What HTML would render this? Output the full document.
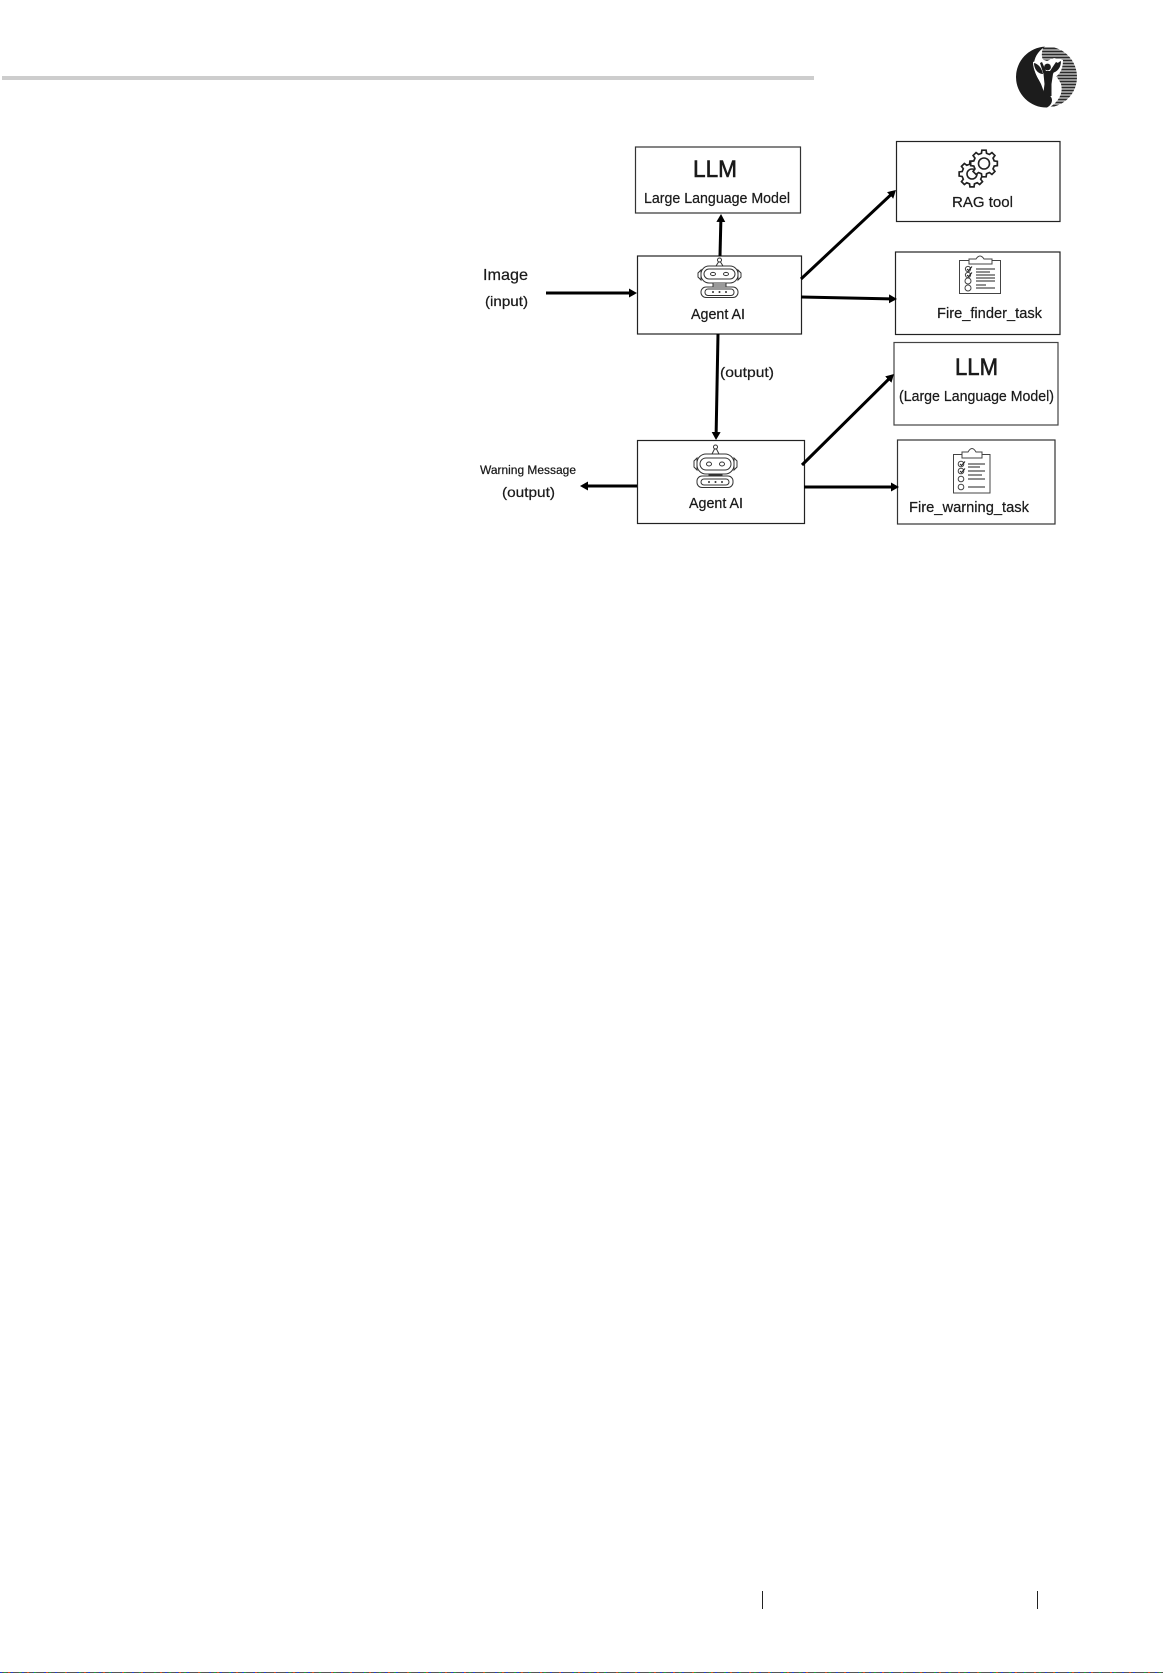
<!DOCTYPE html>
<html><head><meta charset="utf-8"><style>
html,body{margin:0;padding:0;background:#fff}
svg{display:block}
text{font-family:"Liberation Sans",sans-serif;fill:#1a1a1a;stroke:#1a1a1a;stroke-width:.22}
text.big{stroke-width:.6}
</style></head><body>
<svg width="1163" height="1673" viewBox="0 0 1163 1673" xmlns="http://www.w3.org/2000/svg">
<defs>
<marker id="a" markerUnits="userSpaceOnUse" markerWidth="10" markerHeight="10" refX="3" refY="4.5" orient="auto"><path d="M0,0 L8,4.5 L0,9 Z" fill="#000"/></marker>
<clipPath id="st"><path d="M1044,46.6 A30.5,30.5 0 0 1 1077,77 A30.5,30.5 0 0 1 1049,107.4 C1056,104 1064,95 1061,84 C1056,72 1040,64 1042,53 C1042,50 1043,48 1044,46.6 Z"/></clipPath>
<polygon id="gear" points=".757,-.189 .988,-.156 .988,.156 .757,.189 .669,.402 .809,.588 .588,.809 .402,.669 .189,.757 .156,.988 -.156,.988 -.189,.757 -.402,.669 -.588,.809 -.809,.588 -.669,.402 -.757,.189 -.988,.156 -.988,-.156 -.757,-.189 -.669,-.402 -.809,-.588 -.588,-.809 -.402,-.669 -.189,-.757 -.156,-.988 .156,-.988 .189,-.757 .402,-.669 .588,-.809 .809,-.588 .669,-.402"/>
</defs>
<rect x="2" y="76" width="812" height="4" fill="#cdcdcd"/>

<!-- logo -->
<path d="M1045,46.6 A30.5,30.5 0 0 0 1016,77 A30.5,30.5 0 0 0 1047,107.5 C1052,105 1053,100 1051,97 C1047,91 1043,87 1039,80 C1032,69 1031,56 1045,46.6 Z" fill="#1c1c1c"/>
<g clip-path="url(#st)" fill="#2a2a2a">
<rect x="1030" y="47.5" width="50" height="2"/><rect x="1030" y="50.5" width="50" height="2"/><rect x="1030" y="53.5" width="50" height="2"/><rect x="1030" y="56.5" width="50" height="2"/><rect x="1030" y="59.5" width="50" height="2"/><rect x="1030" y="62.5" width="50" height="2"/><rect x="1030" y="65.5" width="50" height="2"/><rect x="1030" y="68.5" width="50" height="2"/><rect x="1030" y="71.5" width="50" height="2"/><rect x="1030" y="74.5" width="50" height="2"/><rect x="1030" y="77.5" width="50" height="2"/><rect x="1030" y="80.5" width="50" height="2"/><rect x="1030" y="83.5" width="50" height="2"/><rect x="1030" y="86.5" width="50" height="2"/><rect x="1030" y="89.5" width="50" height="2"/><rect x="1030" y="92.5" width="50" height="2"/><rect x="1030" y="95.5" width="50" height="2"/><rect x="1030" y="98.5" width="50" height="2"/><rect x="1030" y="101.5" width="50" height="2"/><rect x="1030" y="104.5" width="50" height="2"/>
</g>
<path d="M1033,62 C1033,70 1037,76 1041,84 L1044,92 L1052,92 L1053,78 C1059,76 1063,70 1063,60 L1054,58 L1047,61 L1041,59 Z" fill="#fff"/>
<circle cx="1047.5" cy="67" r="3.4" fill="#1c1c1c"/>
<path d="M1042,62 L1046,71 L1050,71 L1056,62 L1058,63 L1053,74 L1051.5,84 L1051.5,96 L1043,96 L1044.5,84 L1043.5,74 L1040,63 Z" fill="#1c1c1c"/>
<path d="M1034,63 C1039,64 1042,69 1043,74 C1038,74 1034,69 1034,63 Z" fill="#1c1c1c"/>
<path d="M1061,61 C1056,63 1053,69 1052,73 C1057,72 1061,68 1061,61 Z" fill="#1c1c1c"/>

<!-- boxes -->
<g fill="#fff" stroke="#222" stroke-width="1.2">
<rect x="635.5" y="147" width="165" height="66" stroke="#333"/>
<rect x="637.5" y="256" width="164" height="78"/>
<rect x="637.5" y="440.5" width="167" height="83"/>
<rect x="896.5" y="141.5" width="163.5" height="80"/>
<rect x="895.5" y="252" width="164.5" height="82.5"/>
<rect x="894" y="342.5" width="164" height="82.5" stroke="#444"/>
<rect x="897.5" y="440" width="157.5" height="84" stroke="#333"/>
</g>

<!-- arrows -->
<g stroke="#000" stroke-width="3" fill="none">
<line x1="720" y1="256" x2="720.9" y2="219" marker-end="url(#a)"/>
<line x1="546" y1="293" x2="632" y2="293" marker-end="url(#a)"/>
<line x1="718" y1="334" x2="716.1" y2="435" marker-end="url(#a)"/>
<line x1="637" y1="486" x2="585" y2="486" marker-end="url(#a)"/>
<line x1="801" y1="279" x2="892.3" y2="193.4" marker-end="url(#a)"/>
<line x1="801" y1="297" x2="892" y2="298.9" marker-end="url(#a)"/>
<line x1="802" y1="465" x2="890.4" y2="377.5" marker-end="url(#a)"/>
<line x1="804" y1="487" x2="894" y2="487" marker-end="url(#a)"/>
</g>

<!-- labels -->
<text class="big" x="693" y="177" font-size="24" textLength="44" lengthAdjust="spacingAndGlyphs">LLM</text>
<text x="644" y="203" font-size="14.5" textLength="146" lengthAdjust="spacingAndGlyphs">Large Language Model</text>
<text x="483" y="280" font-size="16" textLength="45" lengthAdjust="spacingAndGlyphs">Image</text>
<text x="485" y="306" font-size="14" textLength="43" lengthAdjust="spacingAndGlyphs">(input)</text>
<text x="691" y="319" font-size="14.5" textLength="54" lengthAdjust="spacingAndGlyphs">Agent AI</text>
<text x="720" y="377" font-size="14" textLength="54" lengthAdjust="spacingAndGlyphs">(output)</text>
<text x="480" y="474" font-size="11.5" textLength="96" lengthAdjust="spacingAndGlyphs">Warning Message</text>
<text x="502" y="497" font-size="14" textLength="53" lengthAdjust="spacingAndGlyphs">(output)</text>
<text x="689" y="508" font-size="14.5" textLength="54" lengthAdjust="spacingAndGlyphs">Agent AI</text>
<text x="952" y="207" font-size="14.5" textLength="61" lengthAdjust="spacingAndGlyphs">RAG tool</text>
<text x="937" y="318" font-size="14.5" textLength="105" lengthAdjust="spacingAndGlyphs">Fire_finder_task</text>
<text class="big" x="955" y="375" font-size="24" textLength="43" lengthAdjust="spacingAndGlyphs">LLM</text>
<text x="899" y="401" font-size="14.5" textLength="155" lengthAdjust="spacingAndGlyphs">(Large Language Model)</text>
<text x="909" y="512" font-size="14.5" textLength="120" lengthAdjust="spacingAndGlyphs">Fire_warning_task</text>

<!-- robot 1 -->
<g fill="#fff" stroke="#333" stroke-width="1">
<circle cx="719.5" cy="260" r="2"/>
<path d="M716,266 L718.5,262 L720.5,262 L723,266"/>
<path d="M701,270 L698,273 L698,277 L701,280 Z"/>
<path d="M738,270 L741,273 L741,277 L738,280 Z"/>
<rect x="701" y="266" width="37" height="17" rx="8"/>
<rect x="704" y="269" width="31" height="10" rx="5"/>
<ellipse cx="713" cy="274" rx="2.5" ry="1.6"/><ellipse cx="726" cy="274" rx="2.5" ry="1.6"/>
<path d="M713,283 V287 M726,283 V287 M713,285 H726"/>
<rect x="701" y="287" width="37" height="10.5" rx="5"/>
<rect x="705" y="289" width="29" height="6.5" rx="3"/>
</g>
<g fill="#333"><circle cx="713" cy="292" r="1"/><circle cx="719.5" cy="292" r="1"/><circle cx="726" cy="292" r="1"/></g>

<!-- robot 2 -->
<g fill="#fff" stroke="#333" stroke-width="1">
<circle cx="715.5" cy="447" r="2"/>
<path d="M712,454 L714.5,449 L716.5,449 L719,454"/>
<path d="M697,458 L694,461 L694,467 L697,470 Z"/>
<path d="M734,458 L737,461 L737,467 L734,470 Z"/>
<rect x="697" y="454" width="37" height="20" rx="9"/>
<rect x="700" y="458" width="31" height="12" rx="6"/>
<ellipse cx="709" cy="464" rx="2.5" ry="2"/><ellipse cx="722" cy="464" rx="2.5" ry="2"/>
<path d="M709,474 V476 M722,474 V476 M709,475 H722"/>
<rect x="697" y="476" width="36" height="11.5" rx="5"/>
<rect x="701" y="479" width="28" height="6" rx="3"/>
</g>
<g fill="#333"><circle cx="709" cy="482" r="1"/><circle cx="715.5" cy="482" r="1"/><circle cx="722" cy="482" r="1"/></g>

<!-- gears -->
<use href="#gear" transform="translate(972,174) scale(13)" fill="#fff" stroke="#222" stroke-width=".13"/>
<circle cx="972" cy="174" r="5" fill="#fff" stroke="#222" stroke-width="1.6"/>
<use href="#gear" transform="translate(984,163.5) scale(13.5)" fill="#fff" stroke="#222" stroke-width=".125"/>
<circle cx="984" cy="163.5" r="5.5" fill="#fff" stroke="#222" stroke-width="1.6"/>

<!-- clipboard 1 -->
<g fill="#fff" stroke="#444" stroke-width="1">
<rect x="959.5" y="260.5" width="41" height="33"/>
<path d="M969,264 V259 H976 Q980,253 984,259 H992 V264 Z"/>
<circle cx="968" cy="269" r="2.6"/><circle cx="968" cy="275" r="2.6"/><circle cx="968" cy="281" r="3"/><circle cx="968" cy="288" r="3"/>
<path d="M967,269 L968.5,270.5 L972,266.5 M967,275 L968.5,276.5 L972,272.5" fill="none" stroke="#222"/>
<path d="M976,269 H995 M976,275 H995 M976,281 H995 M976,288 H995 M976,272 H990 M976,278 H995 M976,285 H986" stroke="#222"/>
</g>

<!-- clipboard 2 -->
<g fill="#fff" stroke="#444" stroke-width="1">
<rect x="953.5" y="454.5" width="36.5" height="38.5"/>
<path d="M962,458 V452 H968 Q972,445 976,452 H982 V458 Z"/>
<circle cx="961" cy="464" r="2.8"/><circle cx="961" cy="471" r="2.8"/><circle cx="961" cy="479" r="2.8"/><circle cx="961" cy="487" r="2.8"/>
<path d="M960,464 L961.5,465.5 L965,461.5 M960,471 L961.5,472.5 L965,468.5" fill="none" stroke="#222"/>
<path d="M968,464 H985 M968,471 H985 M968,479 H985 M968,487 H985 M968,467 H980 M968,475 H982" stroke="#222"/>
</g>

<!-- footer -->
<rect x="762" y="1591" width="1" height="18" fill="#222"/>
<rect x="1037" y="1591" width="1" height="18" fill="#222"/>
<rect x="0" y="1672" width="1163" height="1" fill="#555"/>
<line x1="0" y1="1672.5" x2="1163" y2="1672.5" stroke="#2040d0" stroke-width="1" stroke-dasharray="2 9"/>
<line x1="4" y1="1672.5" x2="1163" y2="1672.5" stroke="#20a040" stroke-width="1" stroke-dasharray="2 13"/>
<line x1="8" y1="1672.5" x2="1163" y2="1672.5" stroke="#d05020" stroke-width="1" stroke-dasharray="2 17"/>
</svg>
</body></html>
